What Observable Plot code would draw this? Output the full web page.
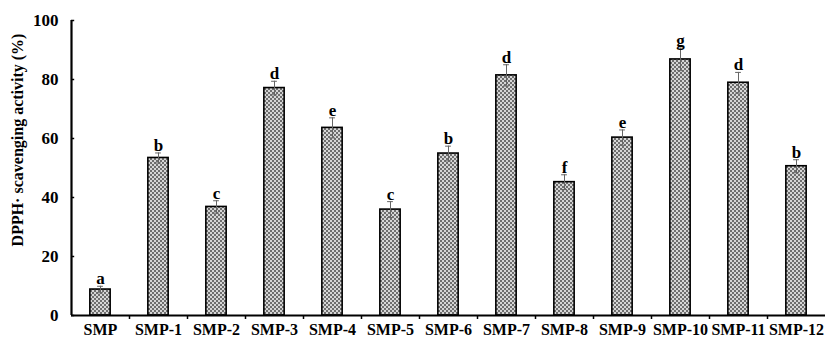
<!DOCTYPE html>
<html>
<head>
<meta charset="utf-8">
<script src="https://cdn.jsdelivr.net/npm/d3@7"></script>
<script src="https://cdn.jsdelivr.net/npm/@observablehq/plot@0.6"></script>
<style>
  html, body { margin: 0; padding: 0; background: #fff; }
  #chart svg { display: block; }
</style>
</head>
<body>
<div id="chart"></div>
<script>
const categories = ["SMP","SMP-1","SMP-2","SMP-3","SMP-4","SMP-5","SMP-6","SMP-7","SMP-8","SMP-9","SMP-10","SMP-11","SMP-12"];
const values = [8.8, 53.4, 36.8, 77.1, 63.6, 35.9, 54.9, 81.4, 45.2, 60.3, 86.8, 78.9, 50.6];
const errors = [1.1, 1.7, 2.1, 2.3, 3.4, 2.7, 2.5, 3.6, 2.5, 2.6, 3.8, 3.5, 2.2];
const letters = ["a","b","c","d","e","c","b","d","f","e","g","d","b"];
const yTicks = [0, 20, 40, 60, 80, 100];

const data = categories.map((c, i) => ({i, c, v: values[i], e: errors[i], l: letters[i]}));
const barHalf = 0.175;
const capHalf = 0.05;
const serif = "'Liberation Serif', 'Times New Roman', serif";

const plot = Plot.plot({
  width: 827,
  height: 341,
  marginLeft: 71,
  marginRight: 2,
  marginTop: 20,
  marginBottom: 26,
  style: {fontFamily: serif, fontWeight: "bold", fontSize: "16px", color: "#000", background: "#fff"},
  x: {type: "linear", domain: [0, categories.length], axis: null},
  y: {domain: [0, 100], axis: null},
  marks: [
    Plot.rectY(data, {x1: d => d.i + 0.5 - barHalf, x2: d => d.i + 0.5 + barHalf, y1: 0, y2: "v", fill: "url(#chk)", stroke: "#000", strokeWidth: 1.6}),
    Plot.ruleX(data, {x: d => d.i + 0.5, y1: d => d.v - d.e, y2: d => d.v + d.e, stroke: "#666", strokeWidth: 1}),
    Plot.ruleY(data, {y: d => d.v + d.e, x1: d => d.i + 0.5 - capHalf, x2: d => d.i + 0.5 + capHalf, stroke: "#666", strokeWidth: 1}),
    Plot.ruleY(data, {y: d => d.v - d.e, x1: d => d.i + 0.5 - capHalf, x2: d => d.i + 0.5 + capHalf, stroke: "#666", strokeWidth: 1}),
    Plot.text(data, {x: d => d.i + 0.5, y: d => d.v + d.e, text: "l", dy: -2, lineAnchor: "bottom", fontSize: 17, fontWeight: "bold", fontFamily: serif, fill: "#000"}),
    // y axis
    Plot.axisY({ticks: yTicks, tickSize: 0, tickPadding: 13, fontSize: 17, label: null, tickFormat: d => String(d)}),
    Plot.ruleY(yTicks, {y: d => d, x1: 0, x2: 0.055, stroke: "#000", strokeWidth: 1.5}),
    Plot.ruleX([0], {y1: 0, y2: 100, stroke: "#000", strokeWidth: 2.2}),
    // x axis
    Plot.ruleY([0], {stroke: "#000", strokeWidth: 2.2}),
    Plot.axisX({ticks: d3.range(1, categories.length), tickSize: 4, tickFormat: () => "", label: null, stroke: "#000", strokeWidth: 1.5}),
    Plot.axisX({ticks: categories.map((c, i) => i + 0.5), tickSize: 0, tickPadding: 8, fontSize: 16, label: null, tickFormat: d => categories[Math.floor(d)]})
  ]
});

const ns = "http://www.w3.org/2000/svg";
const defs = document.createElementNS(ns, "defs");
defs.innerHTML = '<pattern id="chk" width="4" height="4" patternUnits="userSpaceOnUse">' +
  '<rect width="4" height="4" fill="#d6d6d6"/>' +
  '<rect width="2" height="2" fill="#6e6e6e"/>' +
  '<rect x="2" y="2" width="2" height="2" fill="#6e6e6e"/></pattern>';
plot.insertBefore(defs, plot.firstChild);

// y axis title
const t = document.createElementNS(ns, "text");
t.setAttribute("transform", "translate(19,140) rotate(-90)");
t.setAttribute("text-anchor", "middle");
t.setAttribute("dominant-baseline", "middle");
t.setAttribute("font-size", "16");
t.setAttribute("font-weight", "bold");
t.setAttribute("font-family", serif);
t.textContent = "DPPH· scavenging activity (%)";
plot.appendChild(t);

document.getElementById("chart").appendChild(plot);
</script>
</body>
</html>
